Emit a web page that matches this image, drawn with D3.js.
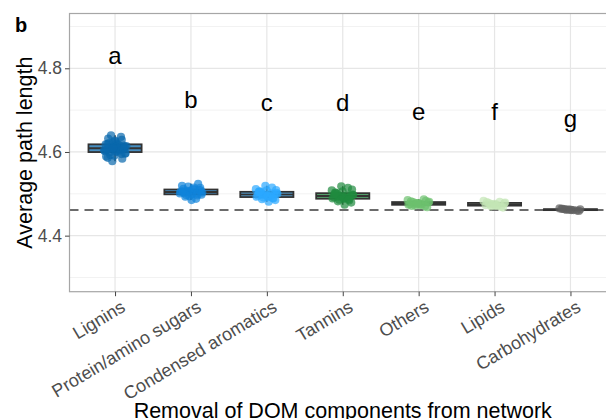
<!DOCTYPE html>
<html>
<head>
<meta charset="utf-8">
<style>
body { margin: 0; background: #fff; }
text { font-family: "Liberation Sans", Arial, sans-serif; }
</style>
</head>
<body>
<script src="https://cdn.jsdelivr.net/npm/d3@7"></script>
<script>

// categories and colours
var categories = ["Lignins", "Protein/amino sugars", "Condensed aromatics", "Tannins", "Others", "Lipids", "Carbohydrates"];
var colors = ["#0868ac", "#0f83da", "#2ba8ff", "#208a3f", "#6cc16e", "#c3e6b5", "#5f5f5f"];
var letters = ["a", "b", "c", "d", "e", "f", "g"];
var letterY = [4.831, 4.726, 4.719, 4.719, 4.697, 4.697, 4.680];

// average path length after removing each group
var lignins = [4.608,4.612,4.601,4.619,4.595,4.623,4.604,4.610,4.599,4.615,4.627,4.589,4.606,4.613,4.597,4.620,4.632,4.584,4.609,4.602,4.617,4.593,4.611,4.625,4.605,4.636,4.578,4.614,4.600,4.621,4.607,4.591,4.618,4.603,4.640,4.596,4.612,4.586,4.629,4.609];
var protein = [4.504,4.508,4.499,4.512,4.496,4.506,4.501,4.515,4.493,4.509,4.503,4.519,4.488,4.507,4.498,4.511,4.502,4.524,4.494,4.505,4.510,4.497,4.514,4.485,4.506,4.500,4.517,4.503];
var condensed = [4.497,4.502,4.492,4.506,4.489,4.499,4.511,4.494,4.503,4.485,4.508,4.496,4.515,4.491,4.500,4.481,4.505,4.498,4.519,4.493,4.501,4.487,4.509,4.495,4.504,4.490];
var tannins = [4.493,4.498,4.488,4.503,4.484,4.495,4.508,4.490,4.500,4.479,4.506,4.492,4.514,4.486,4.497,4.474,4.502,4.494,4.518,4.489,4.496,4.482,4.510,4.491,4.499,4.487];
var others = [4.476,4.479,4.473,4.482,4.470,4.477,4.485,4.474,4.480,4.468,4.478,4.475,4.487,4.472,4.481,4.476,4.471,4.483,4.477,4.474];
var lipids = [4.474,4.477,4.471,4.480,4.469,4.475,4.483,4.472,4.478,4.467,4.476,4.473,4.481,4.470,4.479,4.474];
var carbohydrates = [4.462,4.463,4.461,4.464,4.460,4.462,4.465,4.461,4.463,4.459,4.462,4.464];
var baseline = 4.461;

var yTicks = [4.4, 4.6, 4.8];
var yMinor = [4.3, 4.5, 4.7, 4.9];

var series = [lignins, protein, condensed, tannins, others, lipids, carbohydrates];

var width = 606, height = 419;
var margin = {left: 69.5, right: -10, top: 13.5, bottom: 127.3};

var svg = d3.select("body").append("svg")
    .attr("width", width)
    .attr("height", height);

var x = d3.scalePoint()
    .domain(categories)
    .range([margin.left, width - margin.right])
    .padding(0.6);

var y = d3.scaleLinear()
    .domain([4.266, 4.931])
    .range([height - margin.bottom, margin.top]);

var step = x.step();
var boxW = step * 0.7;
var jit = step * 0.15;

var panel = svg.append("g");

// minor grid
panel.selectAll(".minor").data(yMinor).enter().append("line")
    .attr("x1", margin.left).attr("x2", width - margin.right)
    .attr("y1", d => y(d)).attr("y2", d => y(d))
    .attr("stroke", "#f2f2f2").attr("stroke-width", 1);

// major grid
panel.selectAll(".major").data(yTicks).enter().append("line")
    .attr("x1", margin.left).attr("x2", width - margin.right)
    .attr("y1", d => y(d)).attr("y2", d => y(d))
    .attr("stroke", "#e6e6e6").attr("stroke-width", 1.2);

panel.selectAll(".vgrid").data(categories).enter().append("line")
    .attr("x1", d => x(d)).attr("x2", d => x(d))
    .attr("y1", margin.top).attr("y2", height - margin.bottom)
    .attr("stroke", "#e6e6e6").attr("stroke-width", 1.2);

// dashed reference line
panel.append("line")
    .attr("x1", margin.left).attr("x2", width - margin.right)
    .attr("y1", y(baseline)).attr("y2", y(baseline))
    .attr("stroke", "#6b6b6b").attr("stroke-width", 2)
    .attr("stroke-dasharray", "9,6");

// boxes
series.forEach(function(vals, i) {
  var s = vals.slice().sort(d3.ascending);
  var q1 = d3.quantile(s, 0.25), med = d3.quantile(s, 0.5), q3 = d3.quantile(s, 0.75);
  var iqr = q3 - q1;
  var lo = d3.min(s.filter(v => v >= q1 - 1.5 * iqr));
  var hi = d3.max(s.filter(v => v <= q3 + 1.5 * iqr));
  var cx = x(categories[i]);
  var g = panel.append("g");
  g.append("line").attr("x1", cx).attr("x2", cx).attr("y1", y(hi)).attr("y2", y(q3))
    .attr("stroke", "#333").attr("stroke-width", 1.5);
  g.append("line").attr("x1", cx).attr("x2", cx).attr("y1", y(q1)).attr("y2", y(lo))
    .attr("stroke", "#333").attr("stroke-width", 1.5);
  g.append("rect")
    .attr("x", cx - boxW / 2).attr("width", boxW)
    .attr("y", y(q3)).attr("height", Math.max(0.5, y(q1) - y(q3)))
    .attr("fill", colors[i]).attr("fill-opacity", 0.75)
    .attr("stroke", "#333").attr("stroke-width", 1.8);
  g.append("line")
    .attr("x1", cx - boxW / 2).attr("x2", cx + boxW / 2)
    .attr("y1", y(med)).attr("y2", y(med))
    .attr("stroke", "#333").attr("stroke-width", 2);
});

// jittered points (deterministic offsets)
series.forEach(function(vals, i) {
  var cx = x(categories[i]);
  panel.append("g").selectAll("circle").data(vals).enter().append("circle")
    .attr("cx", function(d, k) { var f = (k * 0.618034 + 0.31) % 1; return cx + (f * 2 - 1) * jit; })
    .attr("cy", d => y(d))
    .attr("r", 4.1)
    .attr("fill", colors[i])
    .attr("fill-opacity", 0.7);
});

// significance letters
svg.selectAll(".letter").data(letters).enter().append("text")
    .attr("x", (d, i) => x(categories[i]))
    .attr("y", (d, i) => y(letterY[i]))
    .attr("dy", "0.35em")
    .attr("text-anchor", "middle")
    .attr("font-size", 24)
    .attr("fill", "#000")
    .text(d => d);

// panel border
svg.append("rect")
    .attr("x", margin.left).attr("y", margin.top)
    .attr("width", width - margin.right - margin.left)
    .attr("height", height - margin.bottom - margin.top)
    .attr("fill", "none").attr("stroke", "#a6a6a6").attr("stroke-width", 1.2);

// y axis
var yAxis = svg.append("g")
    .attr("transform", "translate(" + margin.left + ",0)")
    .call(d3.axisLeft(y).tickValues(yTicks).tickFormat(d3.format(".1f")).tickSize(4.5).tickPadding(3));
yAxis.select(".domain").remove();
yAxis.selectAll("line").attr("stroke", "#444").attr("stroke-width", 1);
yAxis.selectAll("text").attr("font-size", 17.5).attr("fill", "#4d4d4d")
    .attr("font-family", "Liberation Sans, Arial, sans-serif");

// x axis
var xAxis = svg.append("g")
    .attr("transform", "translate(0," + (height - margin.bottom) + ")")
    .call(d3.axisBottom(x).tickSize(4.5).tickPadding(4));
xAxis.select(".domain").remove();
xAxis.selectAll("line").attr("stroke", "#444").attr("stroke-width", 1);
xAxis.selectAll("text")
    .attr("font-size", 18).attr("fill", "#4d4d4d")
    .attr("font-family", "Liberation Sans, Arial, sans-serif")
    .attr("text-anchor", "end")
    .attr("x", 4).attr("y", 7).attr("dy", "0.75em")
    .attr("transform", "rotate(-31, 4, 7)");

// axis titles
svg.append("text")
    .attr("transform", "translate(24," + ((margin.top + height - margin.bottom) / 2) + ") rotate(-90)")
    .attr("dy", "0.35em")
    .attr("text-anchor", "middle")
    .attr("font-size", 21.5)
    .text("Average path length");

svg.append("text")
    .attr("x", (margin.left + width - margin.right) / 2)
    .attr("y", 418)
    .attr("text-anchor", "middle")
    .attr("font-size", 21.5)
    .text("Removal of DOM components from network");

// panel tag
svg.append("text")
    .attr("x", 15).attr("y", 32)
    .attr("font-size", 20).attr("font-weight", "bold")
    .text("b");

</script>
</body>
</html>
